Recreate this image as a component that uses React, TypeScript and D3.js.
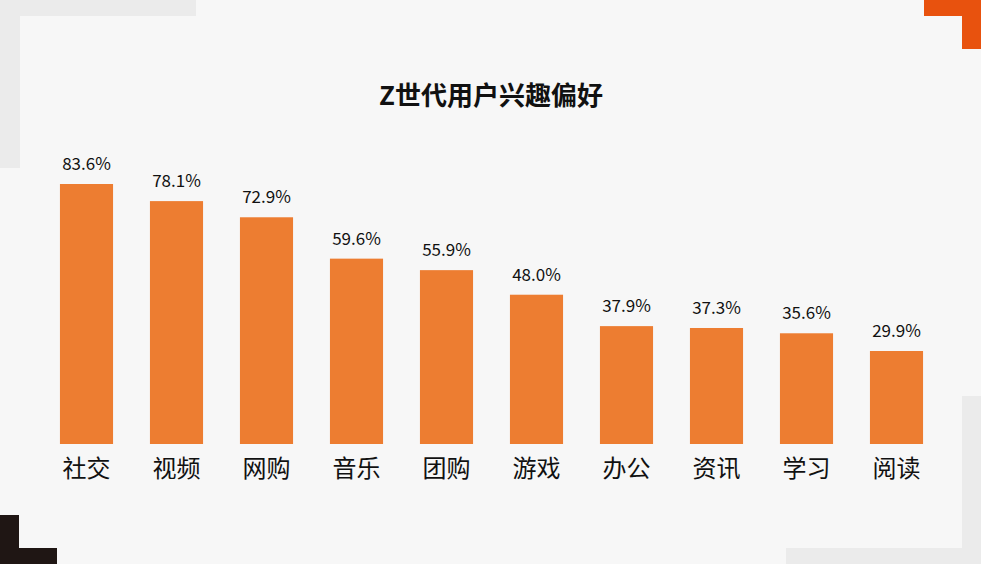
import { useRef, useEffect } from "react";
import * as d3 from "d3";

const categories = ["社交", "视频", "网购", "音乐", "团购", "游戏", "办公", "资讯", "学习", "阅读"];
const shares = [83.6, 78.1, 72.9, 59.6, 55.9, 48.0, 37.9, 37.3, 35.6, 29.9];
const title = "Z世代用户兴趣偏好";

const W = 981;
const H = 564;
const FONT = "'Noto Sans CJK SC', 'Noto Sans', sans-serif";

const App = () => {
  const ref = useRef<SVGSVGElement>(null);

  useEffect(() => {
    const svg = d3.select(ref.current);
    svg.selectAll("*").remove();

    svg.append("rect").attr("width", W).attr("height", H).attr("fill", "#f7f7f7");

    // corner decorations
    const corners = svg.append("g");
    corners.append("rect").attr("x", 0).attr("y", 0).attr("width", 196).attr("height", 16).attr("fill", "#ebebeb");
    corners.append("rect").attr("x", 0).attr("y", 0).attr("width", 20).attr("height", 168).attr("fill", "#ebebeb");
    corners.append("rect").attr("x", 924).attr("y", 0).attr("width", 57).attr("height", 16).attr("fill", "#e8520e");
    corners.append("rect").attr("x", 962).attr("y", 0).attr("width", 19).attr("height", 49).attr("fill", "#e8520e");
    corners.append("rect").attr("x", 0).attr("y", 515).attr("width", 19).attr("height", 49).attr("fill", "#1f1614");
    corners.append("rect").attr("x", 0).attr("y", 548).attr("width", 57).attr("height", 16).attr("fill", "#1f1614");
    corners.append("rect").attr("x", 962).attr("y", 396).attr("width", 19).attr("height", 168).attr("fill", "#ebebeb");
    corners.append("rect").attr("x", 786).attr("y", 548).attr("width", 195).attr("height", 16).attr("fill", "#ebebeb");

    svg
      .append("text")
      .attr("x", 491)
      .attr("y", 105)
      .attr("text-anchor", "middle")
      .attr("font-family", FONT)
      .attr("font-weight", "bold")
      .attr("font-size", 26)
      .attr("fill", "#111")
      .text(title);

    const x = d3.scaleBand<string>().domain(categories).range([41.5, 941.5]).paddingInner(0.41).paddingOuter(0.205);
    const y = d3.scaleLinear().domain([0, 83.6]).range([444, 184]);

    const bars = svg.append("g").selectAll("g").data(categories).enter().append("g");

    bars
      .append("rect")
      .attr("x", d => x(d) as number)
      .attr("y", (_d, i) => y(shares[i]))
      .attr("width", x.bandwidth())
      .attr("height", (_d, i) => y(0) - y(shares[i]))
      .attr("fill", "#ed7d31");

    bars
      .append("text")
      .attr("x", d => (x(d) as number) + x.bandwidth() / 2)
      .attr("y", (_d, i) => y(shares[i]) - 14)
      .attr("text-anchor", "middle")
      .attr("font-family", FONT)
      .attr("font-size", 17)
      .attr("fill", "#111")
      .text((_d, i) => shares[i].toFixed(1) + "%");

    bars
      .append("text")
      .attr("x", d => (x(d) as number) + x.bandwidth() / 2)
      .attr("y", 477)
      .attr("text-anchor", "middle")
      .attr("font-family", FONT)
      .attr("font-size", 24)
      .attr("fill", "#111")
      .text(d => d);
  }, []);

  return (
    <div style={{ position: "fixed", left: 0, top: 0 }}>
      <svg ref={ref} width={W} height={H} style={{ display: "block" }} />
    </div>
  );
};

export default App;
